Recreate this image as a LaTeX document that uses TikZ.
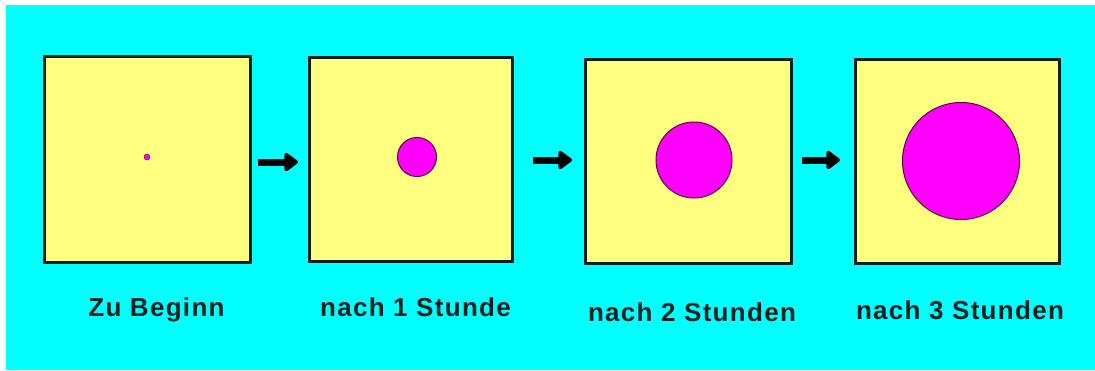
\documentclass[tikz,border=0pt]{standalone}
\usepackage{fontspec}
\setmainfont{Liberation Sans}
\newfontfamily\lblfont[LetterSpace=5]{Liberation Sans}
\usetikzlibrary{arrows.meta}
\definecolor{bg}{RGB}{0,255,255}
\definecolor{pale}{RGB}{255,255,128}
\definecolor{mag}{RGB}{255,0,255}
\definecolor{edge}{RGB}{12,32,32}
\definecolor{rim}{RGB}{90,0,60}
\begin{document}
\begin{tikzpicture}[x=1pt,y=-1pt,
  panel/.style={draw=edge, line width=3pt, fill=pale, inner sep=0pt, outer sep=0pt},
  blob/.style={draw=rim, fill=mag, line width=1pt, circle, inner sep=0pt},
  arr/.style={draw=black, line width=7pt, -{Triangle[length=15pt,width=21pt,round]}},
  lbl/.style={font=\lblfont\bfseries\fontsize{26}{30}\selectfont, anchor=base, text=edge, inner sep=0pt}]
\useasboundingbox (0,0) rectangle (1095,370);
\fill[white] (0,0) rectangle (1095,370);
\fill[bg] (6,5) rectangle (1095,370);
% panels
\node[panel, minimum width=206pt, minimum height=206pt] (b1) at (147,159) {};
\node[panel, minimum width=203pt, minimum height=204pt] (b2) at (410.5,159) {};
\node[panel, minimum width=206pt, minimum height=204pt] (b3) at (688,161) {};
\node[panel, minimum width=204pt, minimum height=204pt] (b4) at (957,161) {};
% blobs
\node[blob, minimum size=6pt, line width=0.4pt] (c1) at (147,157) {};
\node[blob, minimum size=39pt] (c2) at (417,157) {};
\node[blob, minimum size=76pt] (c3) at (694,160) {};
\node[blob, minimum size=117pt] (c4) at (961,161) {};
% arrows
\draw[arr, shorten <=8pt, shorten >=11pt] ([yshift=-3pt]b1.east) -- ([yshift=-3pt]b2.west);
\draw[arr, shorten <=21pt, shorten >=13pt] ([yshift=-1pt]b2.east) -- ([yshift=1pt]b3.west);
\draw[arr, shorten <=11pt, shorten >=15pt] ([yshift=1pt]b3.east) -- ([yshift=1pt]b4.west);
% labels
\node[lbl] (l1) at (156.5,316) {Zu Beginn};
\node[lbl] (l2) at (415.5,316) {nach 1 Stunde};
\node[lbl] (l3) at (692,321) {nach 2 Stunden};
\node[lbl] (l4) at (960,319) {nach 3 Stunden};
\end{tikzpicture}
\end{document}
